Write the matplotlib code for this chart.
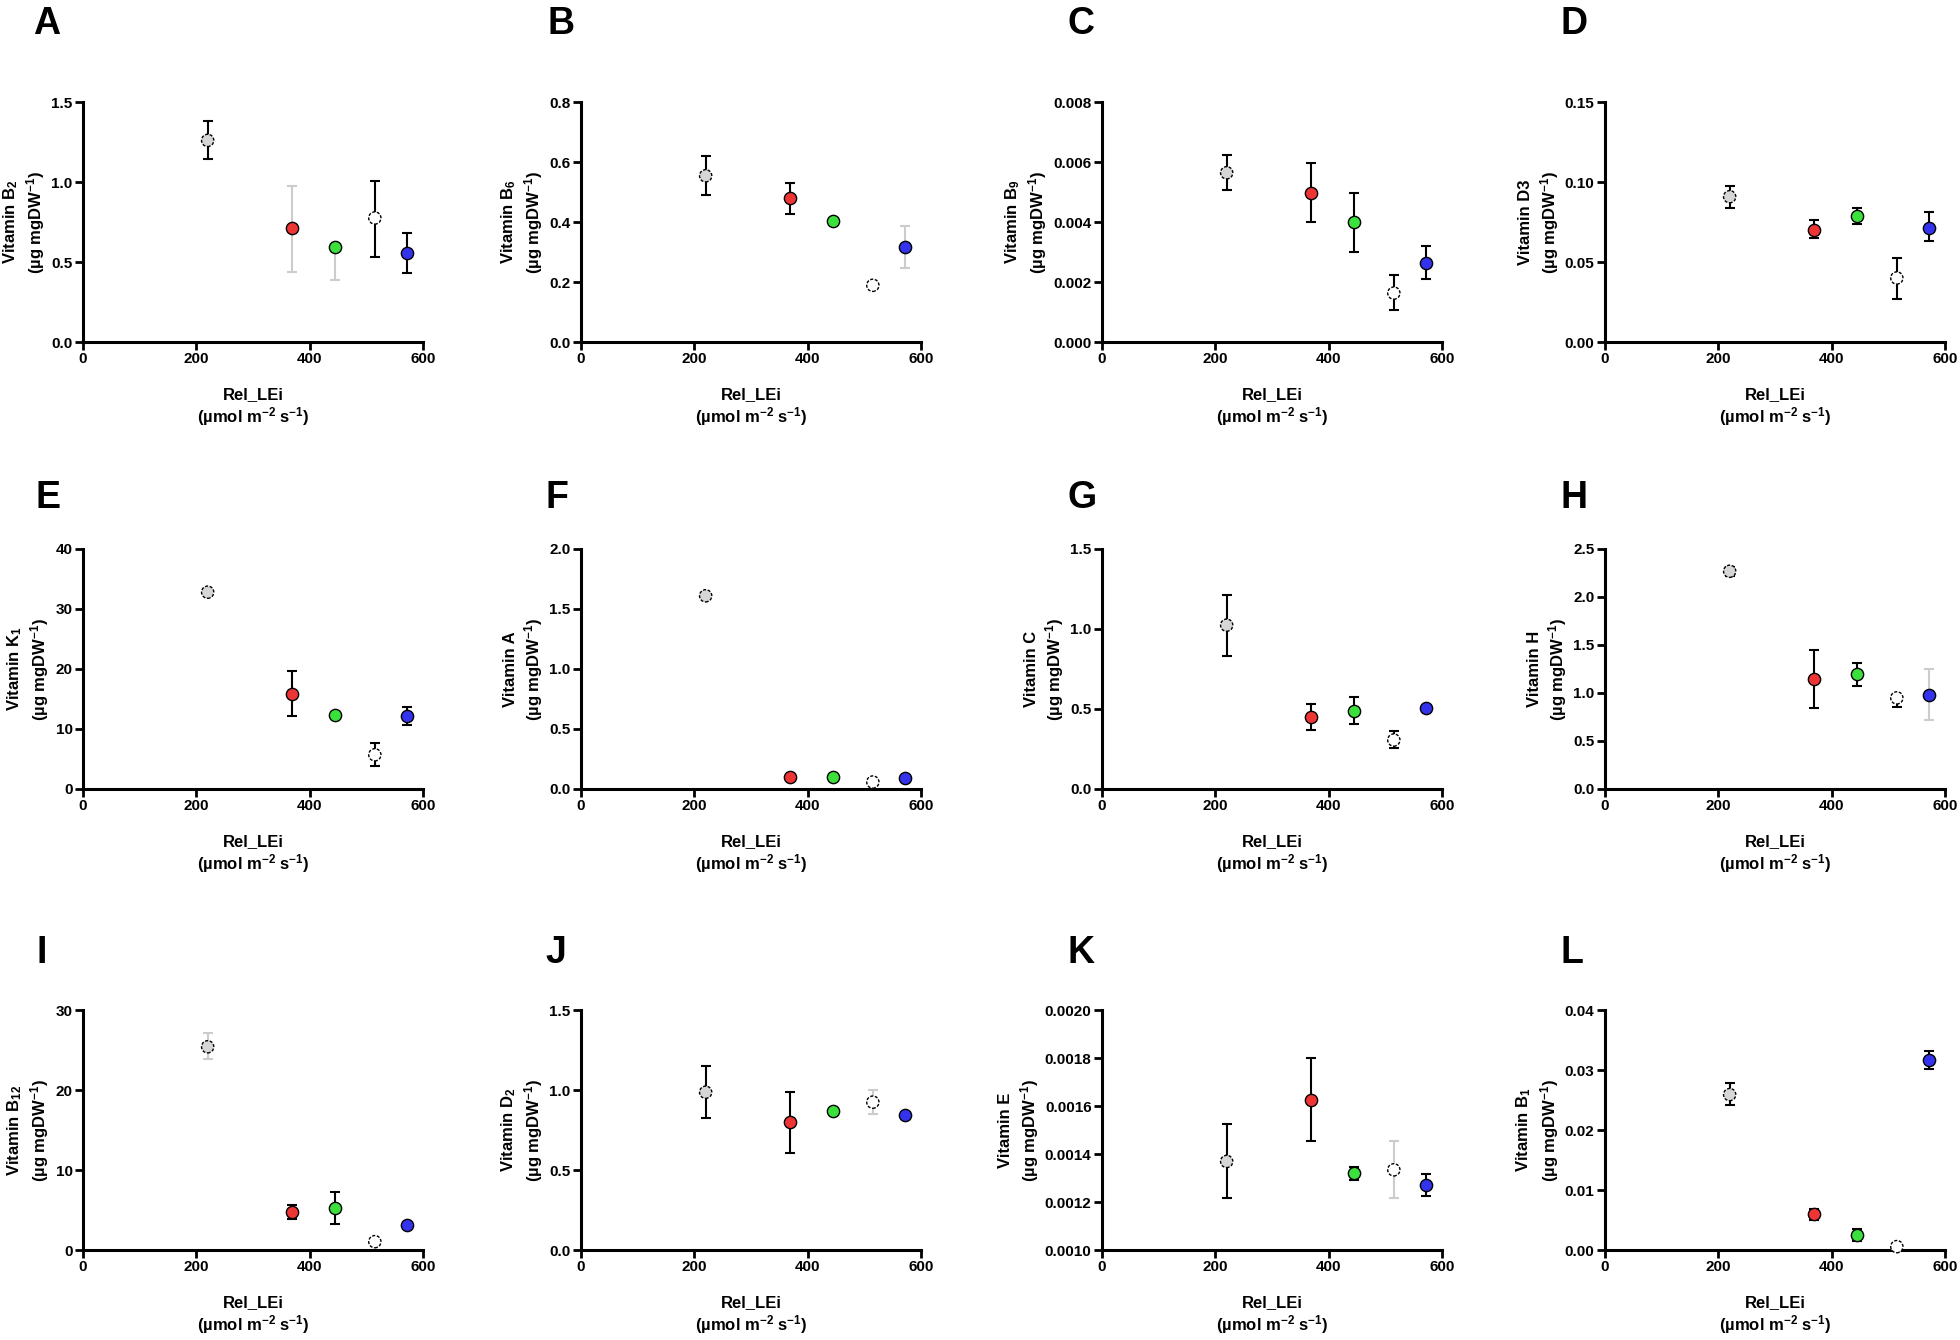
import numpy as np
import matplotlib
matplotlib.use("Agg")
import matplotlib.pyplot as plt

plt.rcParams['font.family'] = ['Liberation Sans', 'DejaVu Sans']
plt.rcParams['font.weight'] = 'bold'
plt.rcParams['mathtext.default'] = 'regular'
plt.rcParams['axes.unicode_minus'] = False

# x positions (Rel_LEi, umol m-2 s-1) shared by every panel
rel_lei = [220, 368, 445, 515, 572]
fills = ['#d6d6d6', '#ee3535', '#3ce03c', '#ffffff', '#3333ee']
dashed = [True, False, False, True, False]

# panel letters and y labels
letters = ['A', 'B', 'C', 'D', 'E', 'F', 'G', 'H', 'I', 'J', 'K', 'L']
vit_names = ['Vitamin B$_2$', 'Vitamin B$_6$', 'Vitamin B$_9$', 'Vitamin D3',
             'Vitamin K$_1$', 'Vitamin A', 'Vitamin C', 'Vitamin H',
             'Vitamin B$_{12}$', 'Vitamin D$_2$', 'Vitamin E', 'Vitamin B$_1$']

# means, error bar lower/upper ends (None = no bar visible)
b2 = [1.26, 0.71, 0.594, 0.775, 0.556]
b2_lo = [1.146, 0.44, 0.39, 0.533, 0.43]
b2_hi = [1.383, 0.977, None, 1.004, 0.68]

b6 = [0.554, 0.479, 0.404, 0.189, 0.316]
b6_lo = [0.491, 0.426, None, None, 0.246]
b6_hi = [0.621, 0.531, None, None, 0.386]

b9 = [0.00564, 0.00497, 0.00399, 0.00163, 0.00264]
b9_lo = [0.00506, 0.0040, 0.0030, 0.00108, 0.00209]
b9_hi = [0.00622, 0.00596, 0.00497, 0.00223, 0.00319]

d3 = [0.0908, 0.0702, 0.079, 0.040, 0.0715]
d3_lo = [0.0838, 0.0648, 0.074, 0.0271, 0.0631]
d3_hi = [0.0977, 0.0763, 0.0838, 0.0525, 0.081]

k1 = [32.8, 15.8, 12.4, 5.7, 12.2]
k1_lo = [None, 12.15, None, 3.88, 10.65]
k1_hi = [None, 19.7, None, 7.65, 13.65]

vit_a = [1.61, 0.10, 0.10, 0.058, 0.092]
vit_a_lo = [None, None, None, None, None]
vit_a_hi = [None, None, None, None, None]

vit_c = [1.024, 0.449, 0.489, 0.306, 0.505]
vit_c_lo = [0.832, 0.37, 0.408, 0.256, None]
vit_c_hi = [1.21, 0.532, 0.576, 0.36, None]

vit_h = [2.268, 1.15, 1.195, 0.949, 0.983]
vit_h_lo = [2.216, 0.841, 1.073, 0.855, 0.72]
vit_h_hi = [2.313, 1.45, 1.309, None, 1.246]

b12 = [25.4, 4.72, 5.22, 1.04, 3.13]
b12_lo = [23.9, 3.84, 3.3, None, None]
b12_hi = [27.07, 5.68, 7.23, None, None]

d2 = [0.986, 0.798, 0.869, 0.924, 0.842]
d2_lo = [0.823, 0.606, None, 0.852, None]
d2_hi = [1.147, 0.986, None, 0.997, None]

vit_e = [0.001369, 0.001625, 0.001319, 0.001334, 0.001269]
vit_e_lo = [0.001216, 0.001454, 0.001292, 0.001216, 0.001223]
vit_e_hi = [0.001525, 0.001801, 0.001345, 0.001455, 0.001316]

b1 = [0.0259, 0.00594, 0.00256, 0.00056, 0.0316]
b1_lo = [0.0241, 0.0050, 0.0015, None, 0.0301]
b1_hi = [0.0279, 0.00689, 0.00356, None, 0.0331]

means = [b2, b6, b9, d3, k1, vit_a, vit_c, vit_h, b12, d2, vit_e, b1]
lows = [b2_lo, b6_lo, b9_lo, d3_lo, k1_lo, vit_a_lo, vit_c_lo, vit_h_lo,
        b12_lo, d2_lo, vit_e_lo, b1_lo]
highs = [b2_hi, b6_hi, b9_hi, d3_hi, k1_hi, vit_a_hi, vit_c_hi, vit_h_hi,
         b12_hi, d2_hi, vit_e_hi, b1_hi]

# error bar colours (some bars in the original are light grey)
bk, lg = 'black', '#cccccc'
bar_colors = [[bk, lg, lg, bk, bk], [bk, bk, bk, bk, lg], [bk] * 5, [bk] * 5,
              [bk] * 5, [bk] * 5, [bk] * 5, [bk, bk, bk, bk, lg],
              [lg, bk, bk, bk, bk], [bk, bk, bk, lg, bk], [bk, bk, bk, lg, bk],
              [bk] * 5]

# y axis ranges, tick steps and number formats
y_min = [0, 0, 0, 0, 0, 0, 0, 0, 0, 0, 0.0010, 0]
y_max = [1.5, 0.8, 0.008, 0.15, 40, 2.0, 1.5, 2.5, 30, 1.5, 0.0020, 0.04]
y_step = [0.5, 0.2, 0.002, 0.05, 10, 0.5, 0.5, 0.5, 10, 0.5, 0.0002, 0.01]
y_fmt = ['%.1f', '%.1f', '%.3f', '%.2f', '%d', '%.1f', '%.1f', '%.1f', '%d',
         '%.1f', '%.4f', '%.2f']

W, H = 1960, 1340
fig = plt.figure(figsize=(W / 100, H / 100), dpi=100)

col_left = [83, 581, 1102, 1605]
row_bottom = [342, 789, 1250]
letter_left = [[33, 547, 1067, 1560], [35, 545, 1067, 1560], [36, 545, 1067, 1560]]
letter_base = [34, 508, 963]
ax_w, ax_h = 340, 240

for i in range(12):
    r, c = divmod(i, 4)
    ax = fig.add_axes([col_left[c] / W, 1 - row_bottom[r] / H, ax_w / W, ax_h / H])

    y = np.array(means[i], dtype=float)
    for j in range(5):
        lo, hi = lows[i][j], highs[i][j]
        if lo is None and hi is None:
            continue
        e_lo = 0 if lo is None else y[j] - lo
        e_hi = 0 if hi is None else hi - y[j]
        ax.errorbar(rel_lei[j], y[j], yerr=[[e_lo], [e_hi]], fmt='none',
                    ecolor=bar_colors[i][j], elinewidth=1.5, capsize=3.8,
                    capthick=1.5, zorder=2, clip_on=False)
    for j in range(5):
        ax.scatter(rel_lei[j], y[j], s=78, c=fills[j], edgecolors='black',
                   linewidths=1.0, zorder=3, clip_on=False,
                   linestyle=(0, (2.2, 1.2)) if dashed[j] else '-')

    ax.set_xlim(0, 600)
    ax.set_ylim(y_min[i], y_max[i])
    ax.set_xticks([0, 200, 400, 600])
    ticks = np.arange(y_min[i], y_max[i] + y_step[i] / 2, y_step[i])
    ax.set_yticks(ticks)
    ax.set_yticklabels([y_fmt[i] % t for t in ticks])
    for s in ['top', 'right']:
        ax.spines[s].set_visible(False)
    for s in ['left', 'bottom']:
        ax.spines[s].set_linewidth(2.2)
    ax.tick_params(width=2.0, length=5.5, labelsize=11, pad=2)
    for lab in ax.get_xticklabels() + ax.get_yticklabels():
        lab.set_fontweight('bold')

    ax.set_xlabel('Rel_LEi\n(µmol m$^{-2}$ s$^{-1}$)', fontsize=12,
                  fontweight='bold', labelpad=15, linespacing=1.15)
    ax.set_ylabel(vit_names[i] + '\n(µg mgDW$^{-1}$)', fontsize=12,
                  fontweight='bold', labelpad=3, linespacing=1.25)

    fig.text(letter_left[r][c] / W, 1 - letter_base[r] / H, letters[i],
             fontsize=27, fontweight='bold', va='baseline', ha='left')

fig.savefig('out.png', dpi=100, facecolor='white')
